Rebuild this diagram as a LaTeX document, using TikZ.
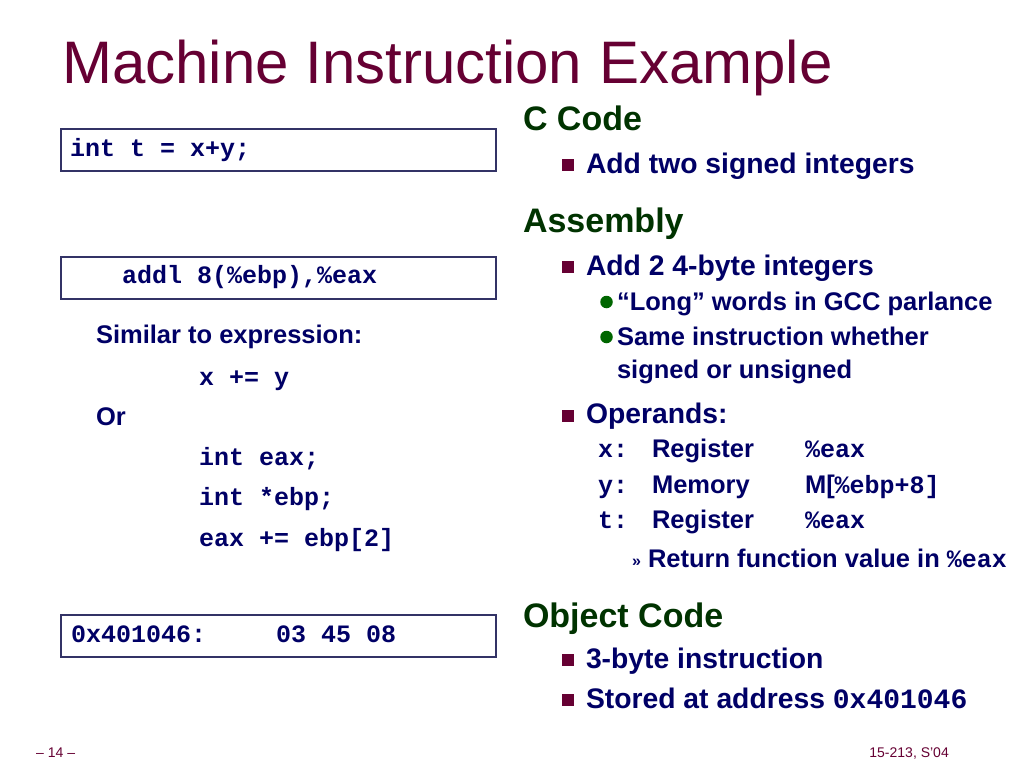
\documentclass[tikz,border=0pt]{standalone}
\usepackage{fontspec}
\setmainfont{Liberation Sans}
\setmonofont{Liberation Mono}
\definecolor{titlec}{HTML}{660033}
\definecolor{headc}{HTML}{003300}
\definecolor{bodyc}{HTML}{000066}
\definecolor{bulc}{HTML}{660033}
\definecolor{dotc}{HTML}{006600}
\definecolor{boxc}{HTML}{333366}
\newcommand\fsz[1]{\fontsize{#1}{#1}\selectfont}
\tikzset{
  txt/.style={anchor=base west, inner sep=0pt, outer sep=0pt, text=bodyc, font=\bfseries\fsz{25.5}},
  head/.style={txt, text=headc, font=\bfseries\fsz{34}},
  lvlone/.style={txt, font=\bfseries\fsz{28.3}},
  lvltwo/.style={txt, font=\bfseries\fsz{25.5}},
  code/.style={txt, font=\ttfamily\bfseries\fsz{25}},
  boxcode/.style={txt, font=\ttfamily\bfseries\fsz{25}},
  codebox/.style={draw=boxc, line width=1.5pt, fill=white, anchor=north west, inner sep=0pt, minimum width=435pt, minimum height=42pt},
  sqbullet/.style={fill=bulc, inner sep=0pt, minimum size=12pt, anchor=south west},
  dotbullet/.style={circle, fill=dotc, inner sep=0pt, minimum size=12.5pt},
  foot/.style={anchor=base west, inner sep=0pt, text=titlec, font=\fsz{14}}
}
\begin{document}
\begin{tikzpicture}[x=1pt,y=-1pt]
\useasboundingbox (0,0) rectangle (1024,768);
\fill[white] (0,0) rectangle (1024,768);
% title
\node[anchor=base west, inner sep=0pt, text=titlec, font=\fsz{60}] (title) at (62,83) {Machine Instruction Example};
% left column boxes
\node[codebox] (b1) at (60,128) {};
\node[boxcode] (b1t) at (70,156) {int t = x+y;};
\node[codebox] (b2) at (60,256) {};
\node[boxcode] (b2t) at (122,283) {addl 8(\%ebp),\%eax};
\node[codebox] (b3) at (60,614) {};
\node[boxcode] (b3t) at (71,642) {0x401046:\hspace{70pt}03 45 08};
% left column text
\node[txt] (sim) at (96,343) {Similar to expression:};
\node[code] (xy) at (199,385) {x += y};
\node[txt] (or) at (96,425) {Or};
\node[code] (c1) at (199,465) {int eax;};
\node[code] (c2) at (199,505) {int *ebp;};
\node[code] (c3) at (199,546) {eax += ebp[2]};
% right column
\node[head] (h1) at (523,130) {C Code};
\node[sqbullet] (s1) at (562,171) {};
\node[lvlone] (t1) at (586,173) {Add two signed integers};
\node[head] (h2) at (523,232) {Assembly};
\node[sqbullet] (s2) at (562,273) {};
\node[lvlone] (t2) at (586,275) {Add 2 4-byte integers};
\node[dotbullet] (d1) at (606.5,302) {};
\node[lvltwo] (t3) at (617,310) {“Long” words in GCC parlance};
\node[dotbullet] (d2) at (606.5,337) {};
\node[lvltwo] (t4) at (617,345) {Same instruction whether};
\node[lvltwo] (t5) at (617,378) {signed or unsigned};
\node[sqbullet] (s3) at (562,422) {};
\node[lvlone] (t6) at (586,423) {Operands:};
\node[code] (ox) at (598,457) {x:};
\node[lvltwo] (rx) at (652,457) {Register};
\node[code] (vx) at (805,457) {\%eax};
\node[code] (oy) at (598,493) {y:};
\node[lvltwo] (ry) at (652,493) {Memory};
\node[lvltwo] (vy) at (805,493) {M[{\ttfamily\bfseries\fsz{25}\%ebp+8]}};
\node[code] (ot) at (598,528) {t:};
\node[lvltwo] (rt) at (652,528) {Register};
\node[code] (vt) at (805,528) {\%eax};
\node[txt, font=\bfseries\fsz{16}] (rq) at (632,566) {»};
\node[lvltwo] (t7) at (648,567) {Return function value in {\ttfamily\bfseries\fsz{25}\%eax}};
\node[head] (h3) at (523,627) {Object Code};
\node[sqbullet] (s4) at (562,666) {};
\node[lvlone] (t8) at (586,668) {3-byte instruction};
\node[sqbullet] (s5) at (562,706) {};
\node[lvlone] (t9) at (586,708) {Stored at address {\ttfamily\bfseries\fsz{28}0x401046}};
% footer
\node[foot] (f1) at (36,757) {– 14 –};
\node[foot, anchor=base east] (f2) at (949,757) {15-213, S’04};
\end{tikzpicture}
\end{document}
